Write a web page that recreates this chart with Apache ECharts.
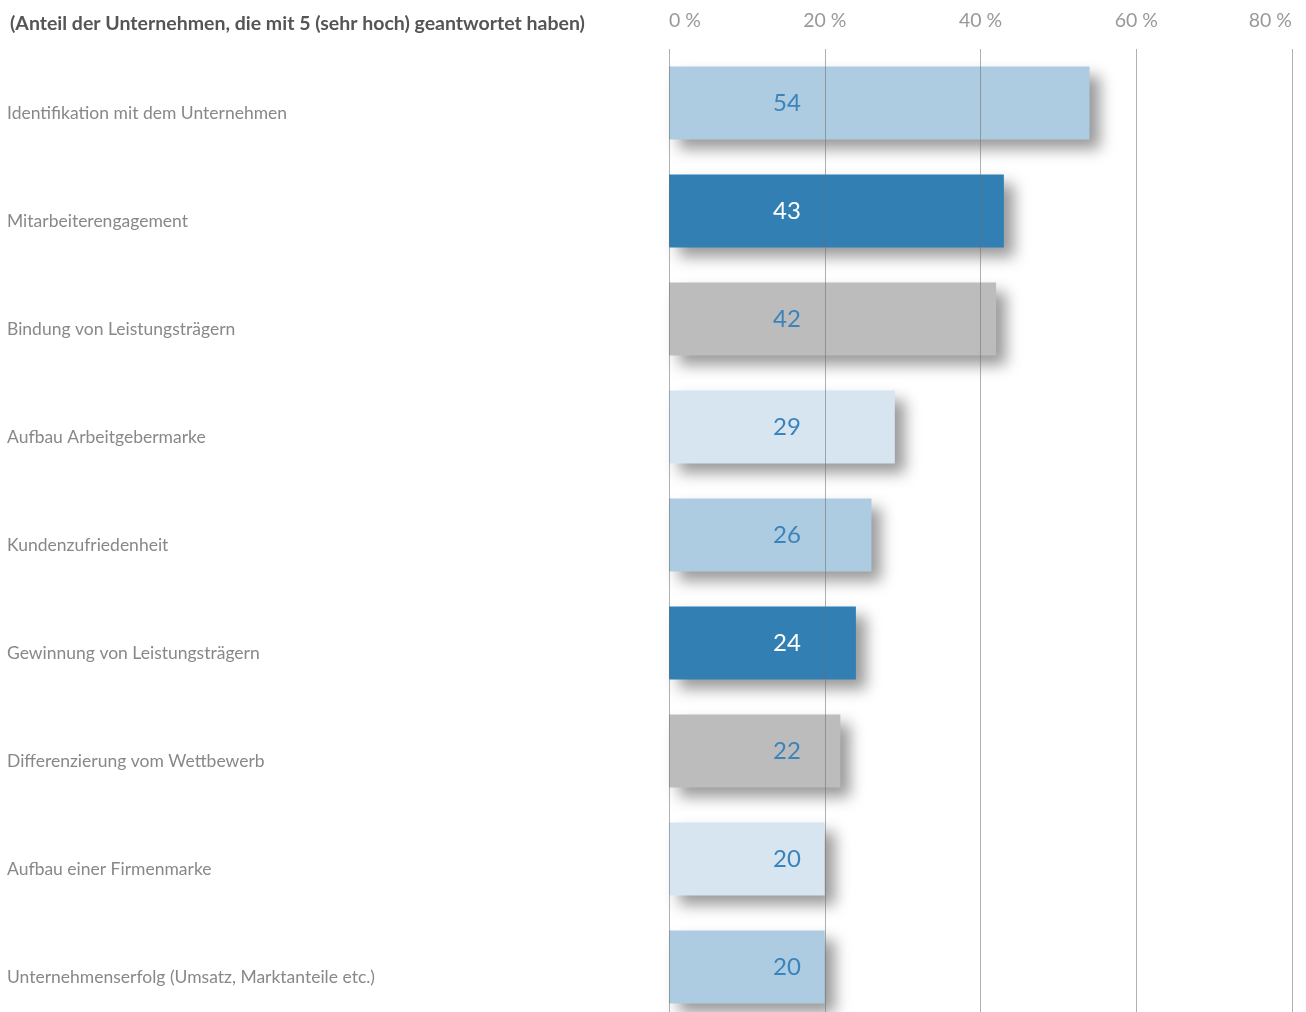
<!DOCTYPE html>
<html>
<head>
<meta charset="utf-8">
<script src="https://cdn.jsdelivr.net/npm/echarts@6/dist/echarts.min.js"></script>
<style>html,body{margin:0;padding:0;background:#fff}#c{width:1306px;height:1012px}</style>
</head>
<body>
<div id="c"></div>
<script>
const titleText = '(Anteil der Unternehmen, die mit 5 (sehr hoch) geantwortet haben)';
const categories = [
  'Identifikation mit dem Unternehmen',
  'Mitarbeiterengagement',
  'Bindung von Leistungsträgern',
  'Aufbau Arbeitgebermarke',
  'Kundenzufriedenheit',
  'Gewinnung von Leistungsträgern',
  'Differenzierung vom Wettbewerb',
  'Aufbau einer Firmenmarke',
  'Unternehmenserfolg (Umsatz, Marktanteile etc.)'
];
const values = [54, 43, 42, 29, 26, 24, 22, 20, 20];
const xTicks = [0, 20, 40, 60, 80];

const palette = ['#adcbe1', '#327fb4', '#bbbcbb', '#d7e5f0'];
const FONT = 'Lato';

const chart = echarts.init(document.getElementById('c'), null, {renderer: 'canvas'});
chart.setOption({
  animation: false,
  title: {
    text: titleText, left: 5, top: 9,
    textStyle: {fontFamily: FONT, fontSize: 19.5, fontWeight: 'bold', color: '#555'}
  },
  grid: {left: 669, right: 14, top: 49, height: 972, containLabel: false, outerBoundsMode: 'none'},
  xAxis: {
    type: 'value', position: 'top', min: xTicks[0], max: xTicks[xTicks.length - 1], interval: 20,
    z: 5,
    axisLine: {show: false}, axisTick: {show: false},
    splitLine: {show: true, lineStyle: {color: 'rgba(110,110,110,0.55)', width: 1}},
    axisLabel: {
      formatter: v => v + ' %', fontFamily: FONT, fontSize: 19.5, color: '#999',
      margin: 18, alignMinLabel: 'left', alignMaxLabel: 'right'
    }
  },
  yAxis: {
    type: 'category', data: categories, inverse: true,
    axisLine: {show: false}, axisTick: {show: false}, splitLine: {show: false},
    axisLabel: {
      align: 'left', verticalAlign: 'top', lineHeight: 21, margin: 662,
      fontFamily: FONT, fontSize: 17.5, color: '#888'
    }
  },
  series: [{
    type: 'bar', barWidth: 73,
    data: values.map((v, i) => ({
      value: v,
      itemStyle: {color: palette[i % 4]},
      label: {color: (i % 4 === 1) ? '#ffffff' : '#3a83bb'}
    })),
    itemStyle: {
      shadowColor: 'rgba(0,0,0,0.4)', shadowBlur: 14, shadowOffsetX: 10, shadowOffsetY: 9
    },
    label: {
      show: true, position: [118, '50%'], align: 'center', verticalAlign: 'middle',
      fontFamily: FONT, fontSize: 24
    }
  }]
});
</script>
</body>
</html>
